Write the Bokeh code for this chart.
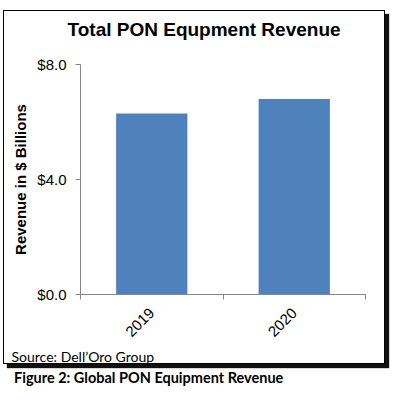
import math
from bokeh.plotting import figure
from bokeh.models import Range1d, FixedTicker, NumeralTickFormatter, Div, Title
from bokeh.layouts import column
from bokeh.embed import file_html
from bokeh.resources import INLINE

years = ["2019", "2020"]
revenue = [6.3, 6.8]
y_ticks = [0, 4, 8]
title_text = "Total PON Equpment Revenue"
y_label = "Revenue in $ Billions"
source_text = "Source: Dell\u2019Oro Group"
caption_text = "Figure 2: Global PON Equipment Revenue"

xs = [i + 0.5 for i in range(len(years))]
bounds = list(range(len(years) + 1))

p = figure(width=382, height=354,
           x_range=Range1d(0, len(years)), y_range=Range1d(0, 8),
           output_backend="svg", toolbar_location=None,
           min_border_left=76, min_border_right=21,
           min_border_top=53, min_border_bottom=68)
p.margin = (10, 0, 0, 3)
p.styles = {"border": "1px solid black", "box-shadow": "4px 4px 1px #111"}
p.background_fill_color = "white"
p.border_fill_color = "white"
p.outline_line_color = None
p.xgrid.visible = False
p.ygrid.visible = False

# spacer between frame and main title
p.add_layout(Title(text=" ", text_font_size="1px", standoff=22), "above")

p.title.text = title_text
p.title.align = "left"
p.title.offset = -13
p.title.text_font = "Liberation Sans"
p.title.text_font_size = "19px"
p.title.text_font_style = "bold"
p.title.text_color = "black"
p.title.standoff = 0

p.vbar(x=xs, top=revenue, width=0.5, color="#4F81BD", line_color=None)

ya = p.yaxis[0]
ya.ticker = FixedTicker(ticks=y_ticks)
ya.formatter = NumeralTickFormatter(format="$0.0")
ya.axis_line_color = "#868686"
ya.major_tick_line_color = "#868686"
ya.major_tick_out = 5
ya.major_tick_in = 0
ya.minor_tick_out = 0
ya.minor_tick_in = 0
ya.major_label_text_font = "Liberation Sans"
ya.major_label_text_font_size = "15px"
ya.major_label_text_color = "black"
ya.major_label_standoff = 9
ya.axis_label = y_label
ya.axis_label_text_font = "Liberation Sans"
ya.axis_label_text_font_size = "15px"
ya.axis_label_text_font_style = "bold"
ya.axis_label_text_color = "black"
ya.axis_label_standoff = 5

xa = p.xaxis[0]
xa.ticker = FixedTicker(ticks=xs, minor_ticks=bounds)
xa.major_label_overrides = {x: y for x, y in zip(xs, years)}
xa.axis_line_color = "#868686"
xa.major_tick_out = 0
xa.major_tick_in = 0
xa.minor_tick_line_color = "#868686"
xa.minor_tick_out = 5
xa.minor_tick_in = 0
xa.major_label_orientation = math.pi / 4
xa.major_label_text_font = "Liberation Sans"
xa.major_label_text_font_size = "15px"
xa.major_label_text_color = "black"
xa.major_label_standoff = 11

src = Title(text=source_text, align="left", offset=-69,
            text_font="Lato", text_font_size="14px", text_font_style="normal",
            text_color="black", standoff=2, vertical_align="bottom")
p.add_layout(src, "below")

cap = Div(text=caption_text, margin=(4, 0, 0, 14),
          styles={"font-family": "Lato", "font-weight": "bold",
                  "font-size": "14.5px", "color": "black"})

layout = column(p, cap)
open("out.html", "w").write(file_html(layout, INLINE))
